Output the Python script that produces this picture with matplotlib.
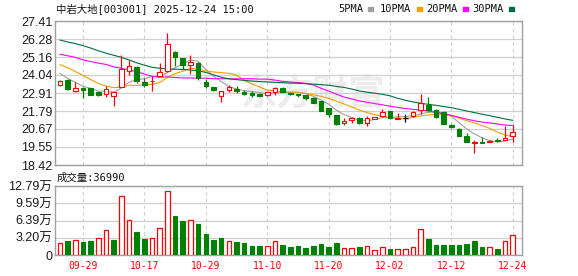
import numpy as np
import pandas as pd
import matplotlib
matplotlib.use("Agg")
import matplotlib.pyplot as plt
from matplotlib.patches import Rectangle

# trading days shown (MM-DD)
dates = ["09-24", "09-25", "09-26", "09-29", "09-30", "10-09", "10-10",
         "10-13", "10-14", "10-15", "10-16", "10-17",
         "10-20", "10-21", "10-22", "10-23", "10-24",
         "10-27", "10-28", "10-29", "10-30", "10-31",
         "11-03", "11-04", "11-05", "11-06", "11-07",
         "11-10", "11-11", "11-12", "11-13", "11-14",
         "11-17", "11-18", "11-19", "11-20", "11-21",
         "11-24", "11-25", "11-26", "11-27", "11-28",
         "12-01", "12-02", "12-03", "12-04", "12-05",
         "12-08", "12-09", "12-10", "12-11", "12-12",
         "12-15", "12-16", "12-17", "12-18", "12-19",
         "12-22", "12-23", "12-24"]

opens = [23.41, 23.75, 23.06, 23.24, 23.20, 22.98, 22.88, 22.71, 23.31, 24.28,
         24.56, 23.58, 23.64, 24.00, 24.26, 25.50, 25.08, 24.64, 24.78, 23.62,
         23.27, 22.71, 23.09, 23.16, 23.00, 22.93, 22.88, 22.79, 23.00, 23.25,
         22.90, 22.84, 22.80, 22.63, 22.41, 21.96, 21.54, 21.02, 21.23, 21.38,
         21.06, 21.30, 21.46, 21.79, 21.32, 21.36, 21.50, 21.85, 22.17, 21.86,
         21.75, 20.90, 20.69, 20.26, 19.80, 19.88, 19.85, 19.97, 19.96, 20.20]
highs = [23.72, 23.80, 23.60, 23.26, 23.22, 23.00, 23.35, 22.98, 25.30, 24.98,
         24.58, 23.83, 24.00, 24.80, 26.67, 25.52, 25.12, 25.28, 24.88, 23.80,
         23.30, 23.05, 23.42, 23.38, 23.10, 23.04, 22.90, 22.97, 23.30, 23.28,
         22.93, 22.85, 22.82, 22.65, 22.42, 21.98, 21.56, 21.35, 21.40, 21.42,
         21.48, 21.44, 21.90, 21.80, 21.65, 21.60, 21.80, 22.85, 22.68, 21.90,
         21.80, 21.00, 20.72, 20.44, 19.98, 20.15, 20.00, 20.08, 20.87, 20.90]
lows = [23.35, 23.12, 22.96, 22.62, 22.76, 22.70, 22.68, 22.10, 23.28, 24.04,
        23.52, 23.31, 23.05, 23.98, 24.20, 24.60, 24.40, 24.10, 23.72, 23.20,
        23.06, 22.37, 22.98, 22.90, 22.76, 22.65, 22.73, 22.70, 22.80, 22.95,
        22.78, 22.65, 22.50, 22.29, 21.80, 21.43, 20.93, 20.92, 21.02, 21.00,
        20.87, 21.28, 21.40, 21.30, 21.28, 21.12, 21.43, 21.60, 21.82, 21.38,
        20.98, 20.70, 20.23, 19.86, 19.20, 19.80, 19.83, 19.85, 19.95, 19.86]
closes = [23.68, 23.17, 23.25, 23.13, 22.78, 22.82, 23.14, 22.96, 24.40, 24.60,
          23.66, 23.43, 23.68, 24.22, 25.97, 25.15, 24.68, 24.87, 23.83, 23.36,
          23.08, 23.04, 23.30, 23.04, 22.85, 22.79, 22.75, 22.95, 23.20, 23.00,
          22.85, 22.80, 22.60, 22.31, 21.81, 21.58, 20.95, 21.19, 21.37, 21.02,
          21.33, 21.42, 21.75, 21.33, 21.35, 21.36, 21.72, 22.27, 21.86, 21.40,
          21.00, 20.82, 20.25, 19.87, 19.84, 19.82, 19.91, 19.90, 20.12, 20.46]
volumes = [21600, 26000, 27200, 24100, 26000, 30900, 45700, 27800, 108700, 64300,
           42600, 29700, 30900, 49400, 118000, 72300, 63000, 64300, 57500, 38900,
           27800, 31500, 25300, 24100, 22200, 16700, 16700, 16100, 25300, 18500,
           15100, 16700, 13000, 16100, 19800, 14800, 22200, 12400, 12400, 14800,
           17300, 8700, 14200, 11100, 10500, 10500, 14200, 47600, 29700, 18500,
           18500, 18500, 18500, 20400, 26000, 14800, 14200, 11100, 25300, 36990]

ma5_head = [24.14, 23.83, 23.58, 23.33]
ma10_head = [24.68, 24.50, 24.25, 24.02, 23.75, 23.50, 23.35, 23.25, 23.28]
ma20_head = [25.33, 25.24, 25.14, 24.98, 24.88, 24.78, 24.70, 24.55, 24.46, 24.35,
             24.25, 24.10, 23.95, 23.90, 23.92, 23.88, 23.86, 23.85, 23.84]
ma30_head = [26.22, 26.10, 26.00, 25.87, 25.72, 25.55, 25.40, 25.27, 25.14, 24.98,
             24.80, 24.65, 24.52, 24.46, 24.42, 24.40, 24.38, 24.35, 24.30, 24.20,
             24.05, 23.90, 23.80, 23.75, 23.70, 23.66, 23.63, 23.61, 23.58]

price_ticks = [18.42, 19.55, 20.67, 21.79, 22.91, 24.04, 25.16, 26.28, 27.41]
vol_ticks = [0, 31975, 63950, 95925, 127900]
vol_tick_labels = ["0", "3.20万", "6.39万", "9.59万", "12.79万"]
date_ticks = ["09-29", "10-17", "10-29", "11-10", "11-20", "12-02", "12-12", "12-24"]

title = "中岩大地[003001] 2025-12-24 15:00"

RED = "#ff0000"
GREEN = "#008000"
GRID = "#cfcfcf"
FRAME = "#a0a0a0"
MONO = ["DejaVu Sans Mono", "Noto Sans CJK SC"]
SANS = ["Liberation Sans", "Noto Sans CJK SC"]

ma_list = [(5, ma5_head, "#a0a0a0", "5PMA"),
           (10, ma10_head, "#f0a000", "10PMA"),
           (20, ma20_head, "#ff00ff", "20PMA"),
           (30, ma30_head, "#006f3c", "30PMA")]

W, H = 578, 276
fig = plt.figure(figsize=(W / 100, H / 100), dpi=100)
ax = fig.add_axes([55 / W, 1 - 165 / H, 467 / W, 144 / H])
axv = fig.add_axes([55 / W, 1 - 255 / H, 467 / W, 69 / H])

x = np.arange(len(dates))
o = np.array(opens)
h = np.array(highs)
l = np.array(lows)
c = np.array(closes)
v = np.array(volumes)

up = c > o
down = c < o
flat = c == o
wick_colors = np.where(up, RED, np.where(down, GREEN, "black"))

# candles
ax.vlines(x, l, h, colors=wick_colors, lw=0.9, zorder=3)
ax.bar(x[up], (c - o)[up], bottom=o[up], width=0.6, facecolor="white",
       edgecolor=RED, lw=0.8, zorder=4)
ax.bar(x[down], (o - c)[down], bottom=c[down], width=0.6, facecolor=GREEN,
       edgecolor=GREEN, lw=0.8, zorder=4)
ax.hlines(c[flat], x[flat] - 0.3, x[flat] + 0.3, colors="black", lw=1.0, zorder=4)

# moving averages
close_s = pd.Series(closes)
for n, head, col, name in ma_list:
    ma = close_s.rolling(n).mean().to_numpy()
    ma[:len(head)] = head
    ax.plot(x, ma, color=col, lw=0.8, zorder=2)

# volume, coloured against previous close
prev = np.r_[o[0], c[:-1]]
vup = c >= prev
axv.bar(x[vup], v[vup], width=0.6, facecolor="white", edgecolor=RED, lw=0.9, zorder=3)
axv.bar(x[~vup], v[~vup], width=0.6, facecolor=GREEN, edgecolor=GREEN, lw=0.8, zorder=3)

tick_pos = [dates.index(d) for d in date_ticks]
for a in (ax, axv):
    a.set_xlim(-0.65, 60.2)
    for s in a.spines.values():
        s.set_color(FRAME)
        s.set_linewidth(1.0)
    a.tick_params(length=0, pad=2)
    for p in tick_pos:
        a.axvline(p, color=GRID, lw=0.8, ls=(0, (3, 3)), zorder=1)
    a.grid(axis="y", color=GRID, lw=0.9, zorder=1)
    a.set_axisbelow(True)

ax.set_ylim(price_ticks[0], price_ticks[-1])
ax.set_yticks(price_ticks)
ax.set_yticklabels(["%.2f" % t for t in price_ticks], family=SANS, fontsize=9, color="#1a1a1a")
ax.set_xticks([])

axv.set_ylim(vol_ticks[0], vol_ticks[-1])
axv.set_yticks(vol_ticks)
axv.set_yticklabels(vol_tick_labels, family=SANS, fontsize=9, color="#1a1a1a")
axv.set_xticks(tick_pos)
axv.set_xticklabels(date_ticks, family=MONO, fontsize=7, color=RED)
axv.tick_params(axis="x", pad=4)

# watermark
ax.text(0.552, 0.49, "东方财富", transform=ax.transAxes, ha="center", va="center",
        family="Noto Sans CJK SC", fontsize=26, fontweight="bold", color="#ececec", zorder=0)

# header and legend
fig.text(56 / W, 1 - 9 / H, title, ha="left", va="center", family=MONO,
         fontsize=7.5, color="#111111")
leg_x = [338, 380, 426, 472]
for (n, head, col, name), lx in zip(ma_list, leg_x):
    t = fig.text(lx / W, 1 - 9 / H, name, ha="left", va="center", family=MONO,
                 fontsize=7.5, color="#111111")
    sq_x = lx + 6.3 * len(name) + 5
    fig.patches.append(Rectangle((sq_x / W, 1 - 10.5 / H), 5 / W, 3.5 / H,
                                 transform=fig.transFigure, color=col))

fig.text(57 / W, 1 - 178 / H, "成交量:%d" % volumes[-1], ha="left", va="center",
         family=MONO, fontsize=7.5, color="#111111")

fig.savefig("out.png", dpi=100)
